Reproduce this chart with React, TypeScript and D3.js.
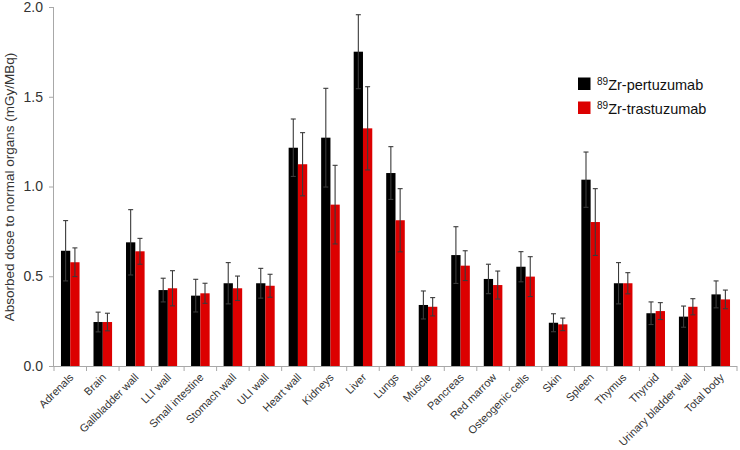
import React from 'react';
import * as d3 from 'd3';

// organs along x
const organs = [
  'Adrenals', 'Brain', 'Gallbladder wall', 'LLI wall', 'Small intestine', 'Stomach wall',
  'ULI wall', 'Heart wall', 'Kidneys', 'Liver', 'Lungs', 'Muscle', 'Pancreas', 'Red marrow',
  'Osteogenic cells', 'Skin', 'Spleen', 'Thymus', 'Thyroid', 'Urinary bladder wall', 'Total body',
];

const pertuzumab = [0.642, 0.245, 0.689, 0.423, 0.392, 0.461, 0.461, 1.216, 1.272, 1.751, 1.075,
  0.340, 0.618, 0.485, 0.553, 0.241, 1.038, 0.461, 0.294, 0.275, 0.399];
const pertuzumabErr = [0.168, 0.055, 0.182, 0.066, 0.091, 0.115, 0.083, 0.160, 0.275, 0.206, 0.147,
  0.078, 0.158, 0.082, 0.084, 0.050, 0.154, 0.115, 0.063, 0.059, 0.075];

const trastuzumab = [0.578, 0.245, 0.639, 0.433, 0.405, 0.433, 0.447, 1.124, 0.899, 1.324, 0.812,
  0.330, 0.559, 0.451, 0.498, 0.232, 0.802, 0.461, 0.306, 0.330, 0.371];
const trastuzumabErr = [0.08, 0.049, 0.072, 0.098, 0.056, 0.068, 0.064, 0.176, 0.219, 0.232, 0.176,
  0.051, 0.083, 0.078, 0.111, 0.035, 0.186, 0.059, 0.047, 0.045, 0.052];

const yTicks = [0, 0.5, 1.0, 1.5, 2.0];

const series = [
  { key: 'p', label: 'Zr-pertuzumab', color: '#000000', values: pertuzumab, errs: pertuzumabErr },
  { key: 't', label: 'Zr-trastuzumab', color: '#dc0000', values: trastuzumab, errs: trastuzumabErr },
];

const axisColor = '#a8a8a8';
const textColor = '#333';
const font = '"Liberation Sans", Arial, sans-serif';

export default function App() {
  const left = 54, right = 737, top = 7, bottom = 366;

  const x = d3.scaleBand().domain(organs).range([left, right]).padding(0);
  const xs = d3.scaleBand().domain(series.map(s => s.key)).range([0, x.bandwidth()])
    .paddingInner(0).paddingOuter(0.75);
  const y = d3.scaleLinear().domain([0, 2]).range([bottom, top]);

  const boundaries = organs.map(o => x(o)!).concat([right]);

  return (
    <svg width={740} height={450} style={{ position: 'fixed', left: 0, top: 0, background: '#fff' }}
      fontFamily={font}>
      {/* bars */}
      {series.map(s => (
        <g key={s.key}>
          {organs.map((o, i) => (
            <rect key={o} x={x(o)! + xs(s.key)!} y={y(s.values[i])} width={xs.bandwidth()}
              height={y(0) - y(s.values[i])} fill={s.color} />
          ))}
        </g>
      ))}
      {/* error bars */}
      {series.map(s => (
        <g key={s.key + 'e'} stroke="#3a3a3a" strokeWidth={1.1}>
          {organs.map((o, i) => {
            const cx = x(o)! + xs(s.key)! + xs.bandwidth() / 2;
            const hi = y(s.values[i] + s.errs[i]);
            const lo = y(s.values[i] - s.errs[i]);
            return (
              <g key={o}>
                <line x1={cx} x2={cx} y1={hi} y2={lo} />
                <line x1={cx - 2.5} x2={cx + 2.5} y1={hi} y2={hi} />
                <line x1={cx - 2.5} x2={cx + 2.5} y1={lo} y2={lo} />
              </g>
            );
          })}
        </g>
      ))}

      {/* y axis */}
      <line x1={left - 0.5} x2={left - 0.5} y1={top} y2={bottom} stroke={axisColor} />
      {yTicks.map(t => (
        <g key={t}>
          <line x1={left - 5} x2={left} y1={y(t) + 0.5} y2={y(t) + 0.5} stroke={axisColor} />
          <text x={left - 11} y={y(t)} dy="0.35em" textAnchor="end" fontSize={14} fill={textColor}>
            {d3.format('.1f')(t)}
          </text>
        </g>
      ))}
      <text transform={`translate(14,187) rotate(-90)`} textAnchor="middle"
        fontSize={13.5} fill={textColor}>
        Absorbed dose to normal organs (mGy/MBq)
      </text>

      {/* x axis */}
      <line x1={left - 1} x2={right} y1={bottom + 0.5} y2={bottom + 0.5} stroke={axisColor} />
      {boundaries.map((b, i) => (
        <line key={i} x1={b} x2={b} y1={bottom} y2={bottom + 5} stroke={axisColor} />
      ))}
      {organs.map(o => (
        <text key={o} transform={`translate(${x(o)! + x.bandwidth() / 2 + 4},${bottom + 12}) rotate(-45)`}
          textAnchor="end" fontSize={11} fill={textColor}>
          {o}
        </text>
      ))}

      {/* legend */}
      {series.map((s, i) => (
        <g key={s.key + 'l'} transform={`translate(578,${77.5 + i * 24})`}>
          <rect width={12.5} height={12.5} fill={s.color} />
          <text x={19} y={12.5} fontSize={14.5} fill="#111">
            <tspan fontSize={10} dy={-5.5}>89</tspan>
            <tspan dy={5.5}>{s.label}</tspan>
          </text>
        </g>
      ))}
    </svg>
  );
}
